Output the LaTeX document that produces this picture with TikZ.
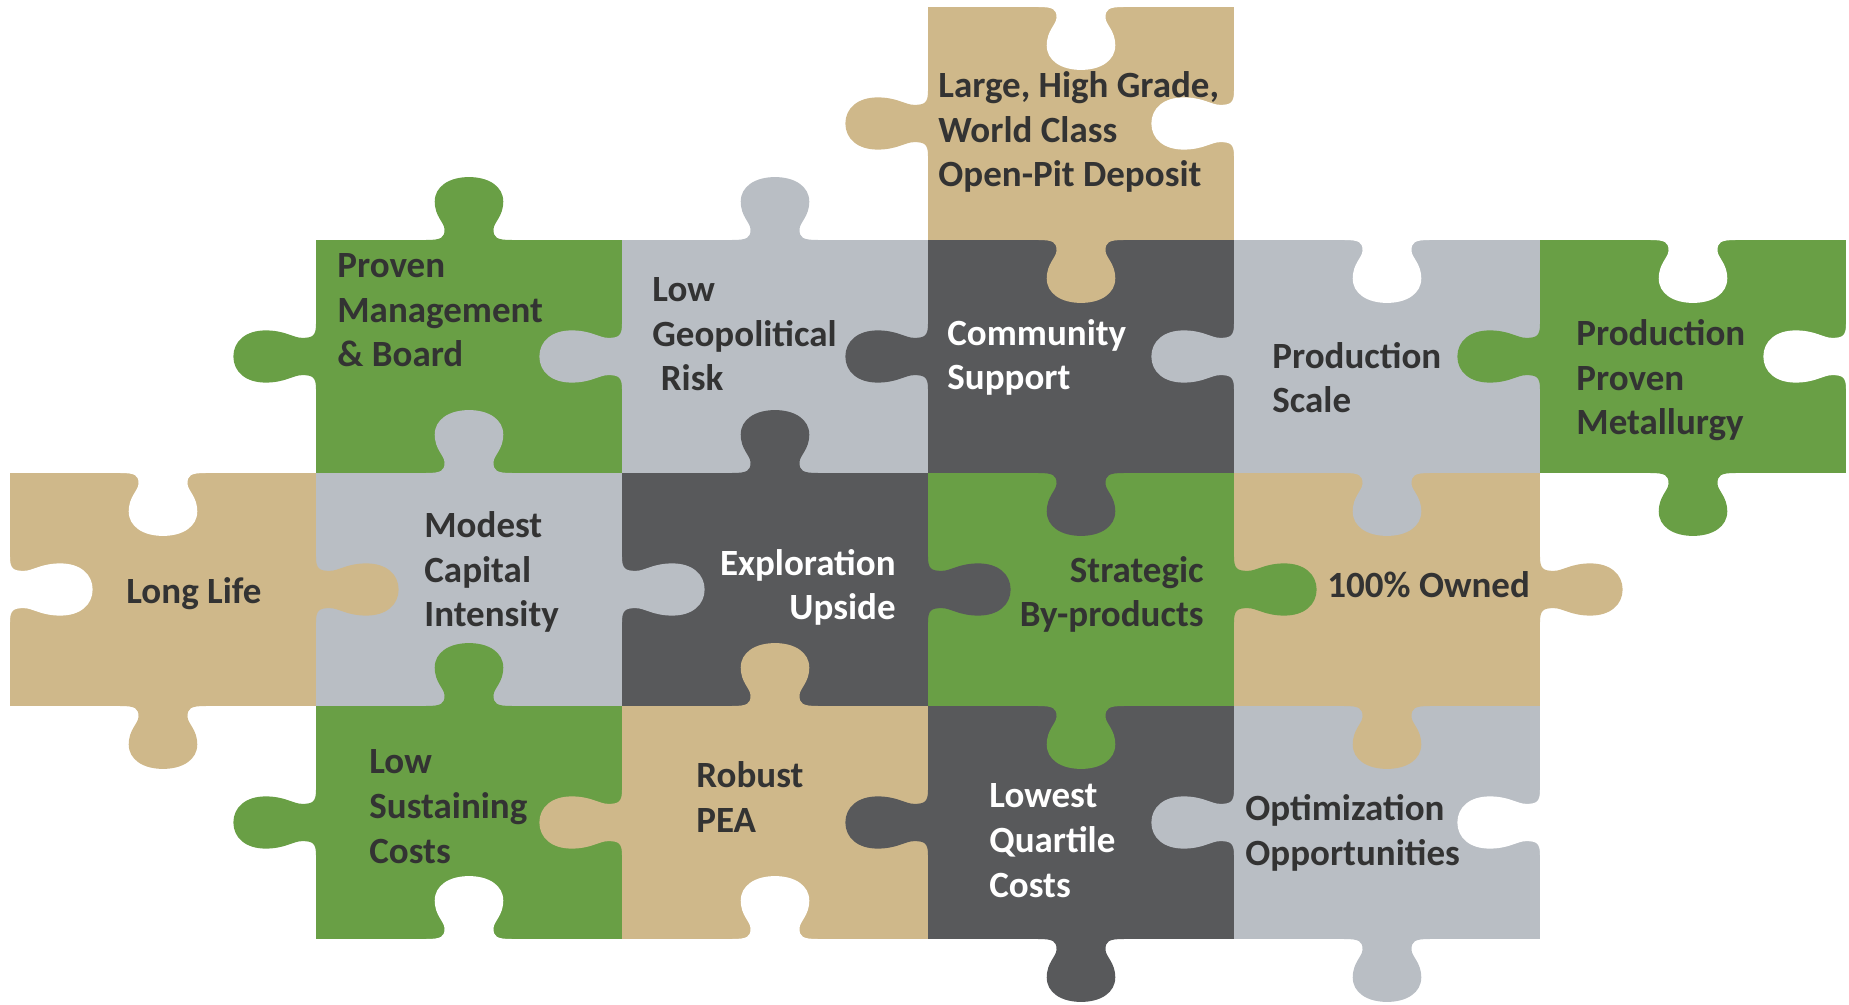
\documentclass[tikz,border=0pt]{standalone}
\usepackage{fontspec}
\setmainfont{Carlito}
\definecolor{ptan}{HTML}{CFB88A}
\definecolor{pgreen}{HTML}{699F45}
\definecolor{pgray}{HTML}{B9BEC4}
\definecolor{pdark}{HTML}{58595B}
\definecolor{ptext}{HTML}{333333}
\tikzset{
  tabup/.style={x={(153pt,0pt)},y={(0pt,116.5pt)}},
  tabdown/.style={x={(153pt,0pt)},y={(0pt,-116.5pt)}},
  tableft/.style={x={(0pt,116.5pt)},y={(-153pt,0pt)}},
  tabright/.style={x={(0pt,116.5pt)},y={(153pt,0pt)}},
  plabel/.style={font=\bfseries\fontsize{18.5}{22.3}\selectfont, inner sep=0pt, align=left, anchor=base west, text=ptext},
  plabelw/.style={plabel, text=white},
}
\newcommand\piecetab[4]{%
  \begin{scope}[shift={(#2,#3)},#4]
    \fill[#1] (-0.14,-0.03) -- (-0.14,0)
      .. controls (-0.09,0) and (-0.08,0.01) .. (-0.08,0.045)
      .. controls (-0.08,0.075) and (-0.112,0.1) .. (-0.112,0.165)
      .. controls (-0.112,0.23) and (-0.065,0.27) .. (0,0.27)
      .. controls (0.065,0.27) and (0.112,0.23) .. (0.112,0.165)
      .. controls (0.112,0.1) and (0.08,0.075) .. (0.08,0.045)
      .. controls (0.08,0.01) and (0.09,0) .. (0.14,0)
      -- (0.14,-0.03) -- cycle;
  \end{scope}}
\newcommand\piecebox[3]{\fill[#1] ({10+306*#2},{7+233*#3}) rectangle ++(306,233);}
\begin{document}
\begin{tikzpicture}[x=0.5pt,y=-0.5pt]
\useasboundingbox (0,0) rectangle (1849,1005);
% piece bodies
\piecebox{ptan}{3}{0}
\piecebox{pgreen}{1}{1}
\piecebox{pgray}{2}{1}
\piecebox{pdark}{3}{1}
\piecebox{pgray}{4}{1}
\piecebox{pgreen}{5}{1}
\piecebox{ptan}{0}{2}
\piecebox{pgray}{1}{2}
\piecebox{pdark}{2}{2}
\piecebox{pgreen}{3}{2}
\piecebox{ptan}{4}{2}
\piecebox{pgreen}{1}{3}
\piecebox{ptan}{2}{3}
\piecebox{pdark}{3}{3}
\piecebox{pgray}{4}{3}
% tabs
\piecetab{ptan}{928}{123.5}{tableft}
\piecetab{ptan}{1081}{240}{tabdown}
\piecetab{white}{1081}{7}{tabdown}
\piecetab{white}{1234}{123.5}{tableft}
\piecetab{pgreen}{469}{240}{tabup}
\piecetab{pgreen}{316}{356.5}{tableft}
\piecetab{pgray}{775}{240}{tabup}
\piecetab{pgray}{622}{356.5}{tableft}
\piecetab{pdark}{928}{356.5}{tableft}
\piecetab{pdark}{1081}{473}{tabdown}
\piecetab{pgray}{1234}{356.5}{tableft}
\piecetab{pgray}{1387}{473}{tabdown}
\piecetab{white}{1387}{240}{tabdown}
\piecetab{pgreen}{1540}{356.5}{tableft}
\piecetab{pgreen}{1693}{473}{tabdown}
\piecetab{white}{1693}{240}{tabdown}
\piecetab{white}{1846}{356.5}{tableft}
\piecetab{ptan}{316}{589.5}{tabright}
\piecetab{ptan}{163}{706}{tabdown}
\piecetab{white}{163}{473}{tabdown}
\piecetab{white}{10}{589.5}{tabright}
\piecetab{pgray}{469}{473}{tabup}
\piecetab{pgray}{622}{589.5}{tabright}
\piecetab{pdark}{775}{473}{tabup}
\piecetab{pdark}{928}{589.5}{tabright}
\piecetab{pgreen}{1234}{589.5}{tabright}
\piecetab{pgreen}{1081}{706}{tabdown}
\piecetab{ptan}{1540}{589.5}{tabright}
\piecetab{ptan}{1387}{706}{tabdown}
\piecetab{pgreen}{469}{706}{tabup}
\piecetab{pgreen}{316}{822.5}{tableft}
\piecetab{white}{469}{939}{tabup}
\piecetab{ptan}{775}{706}{tabup}
\piecetab{ptan}{622}{822.5}{tableft}
\piecetab{white}{775}{939}{tabup}
\piecetab{pdark}{928}{822.5}{tableft}
\piecetab{pdark}{1081}{939}{tabdown}
\piecetab{pgray}{1234}{822.5}{tableft}
\piecetab{pgray}{1387}{939}{tabdown}
\piecetab{white}{1540}{822.5}{tableft}
% labels (anchored at the baseline of the last line)
\node[plabel] (large) at (938,187) {Large, High Grade,\\World Class\\Open-Pit Deposit};
\node[plabel] (proven) at (337,367) {Proven\\Management\\\& Board};
\node[plabel] (lowgeo) at (652,391) {Low\\Geopolitical\\\hspace*{0.23em}Risk};
\node[plabelw] (community) at (947,390) {Community\\Support};
\node[plabel] (prodscale) at (1272,413) {Production\\Scale};
\node[plabel] (prodproven) at (1576,435) {Production\\Proven\\Metallurgy};
\node[plabel] (longlife) at (126,604) {Long Life};
\node[plabel] (modest) at (424,627) {Modest\\Capital\\Intensity};
\node[plabelw, align=right, anchor=base east] (explor) at (896,620) {Exploration\\Upside};
\node[plabel, align=right, anchor=base east] (strategic) at (1204,627) {Strategic\\By-products};
\node[plabel] (owned) at (1327,598) {100\% Owned};
\node[plabel] (lowsust) at (369,863) {Low\\Sustaining\\Costs};
\node[plabel] (robust) at (696,832) {Robust\\PEA};
\node[plabelw] (lowest) at (989,897) {Lowest\\Quartile\\Costs};
\node[plabel] (optim) at (1245,865) {Optimization\\Opportunities};
\end{tikzpicture}
\end{document}
